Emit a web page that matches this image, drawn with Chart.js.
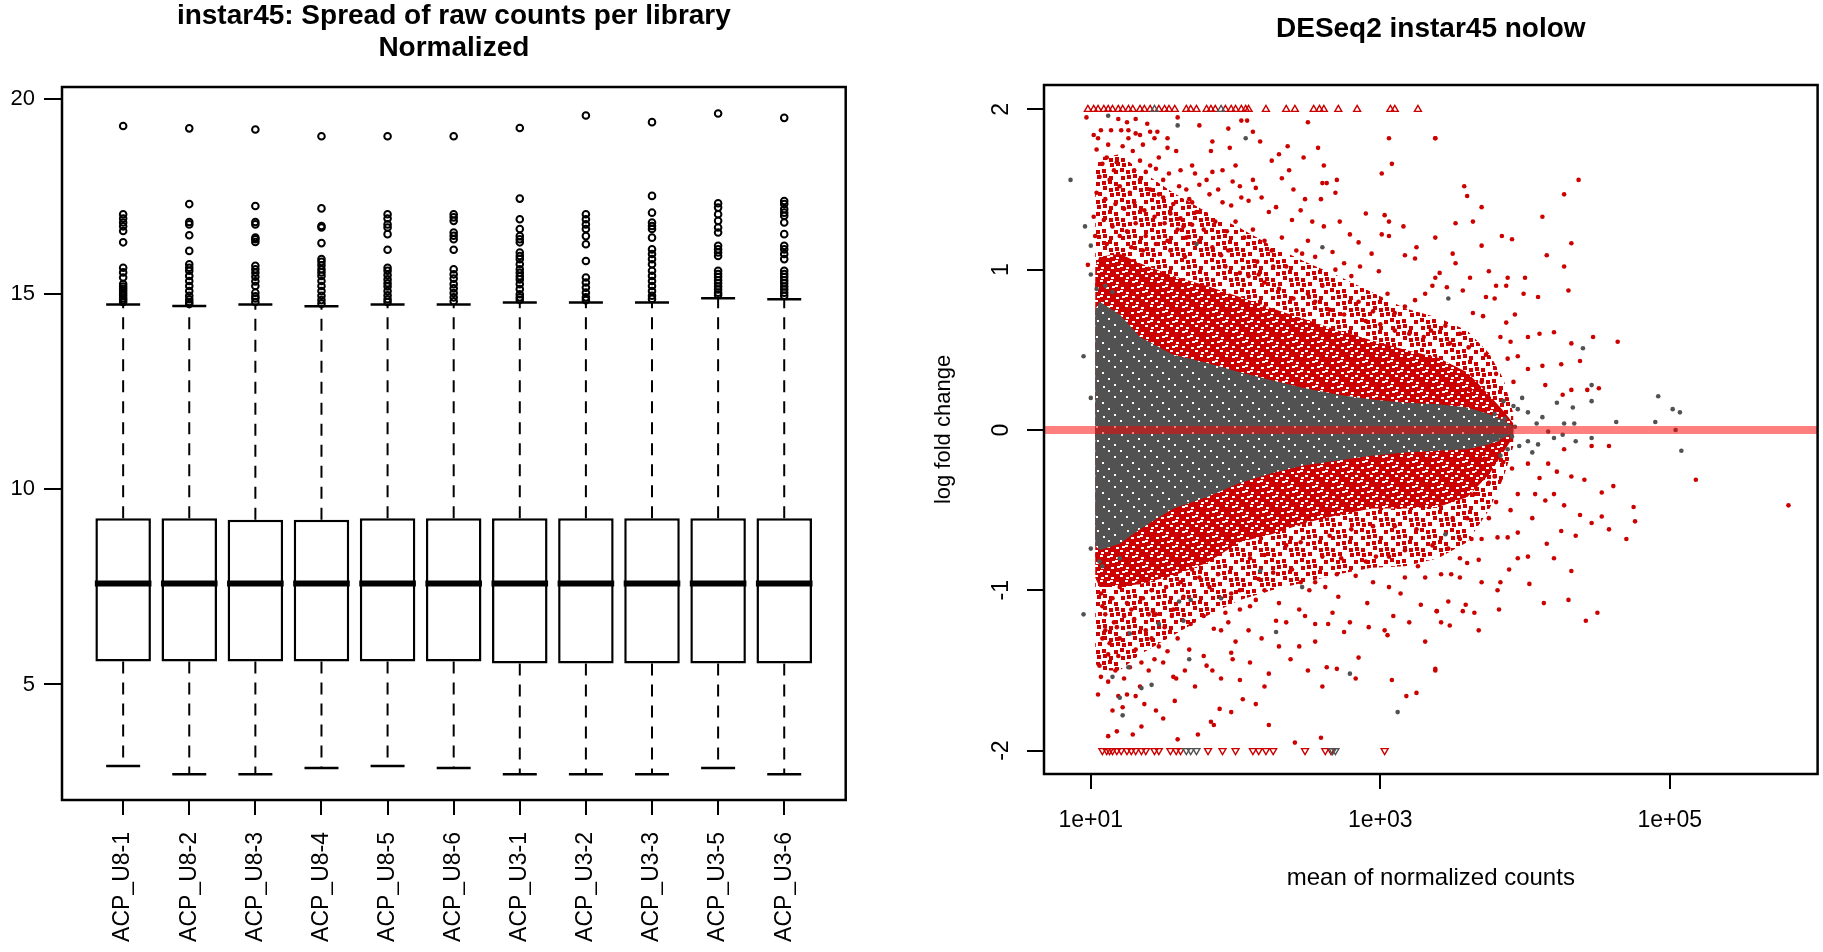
<!DOCTYPE html>
<html>
<head>
<meta charset="utf-8">
<script src="https://cdn.jsdelivr.net/npm/chart.js@4.4.1/dist/chart.umd.min.js"></script>
<style>
  html, body { margin: 0; padding: 0; background: #fff; overflow: hidden; }
  #left { position: absolute; left: 0; top: 0; width: 880px; height: 952px; }
  #right { position: absolute; left: 880px; top: 0; width: 943px; height: 952px; }
</style>
</head>
<body>
<div id="left"><canvas id="boxChart"></canvas></div>
<div id="right"><canvas id="maChart"></canvas></div>
<script>
// left panel: normalized counts per library (boxplot stats)
const libraries = ["ACP_U8-1", "ACP_U8-2", "ACP_U8-3", "ACP_U8-4", "ACP_U8-5", "ACP_U8-6",
                   "ACP_U3-1", "ACP_U3-2", "ACP_U3-3", "ACP_U3-5", "ACP_U3-6"];
const whiskerLow  = [2.91, 2.70, 2.70, 2.86, 2.91, 2.86, 2.70, 2.70, 2.70, 2.86, 2.70];
const q1          = [5.59, 5.59, 5.59, 5.59, 5.59, 5.59, 5.54, 5.54, 5.54, 5.54, 5.54];
const medians     = [7.59, 7.59, 7.59, 7.59, 7.59, 7.59, 7.59, 7.59, 7.59, 7.59, 7.59];
const q3          = [9.26, 9.26, 9.22, 9.22, 9.26, 9.26, 9.26, 9.26, 9.26, 9.26, 9.26];
const whiskerHigh = [14.74, 14.70, 14.74, 14.69, 14.74, 14.74, 14.79, 14.79, 14.79, 14.90, 14.87];
const outliers = [
  [19.31, 17.05, 16.94, 16.84, 16.74, 16.62, 16.33, 15.68, 15.56, 15.43, 15.26, 15.20, 15.14, 15.08, 15.02, 14.96, 14.90, 14.85, 14.80],
  [19.25, 17.31, 16.85, 16.79, 16.51, 16.11, 15.77, 15.68, 15.60, 15.47, 15.34, 15.21, 15.08, 14.96, 14.87, 14.80, 14.75],
  [19.22, 17.26, 16.85, 16.79, 16.45, 16.41, 16.34, 15.73, 15.64, 15.55, 15.45, 15.33, 15.21, 15.04, 14.95, 14.89, 14.80],
  [19.05, 17.20, 16.75, 16.71, 16.31, 15.90, 15.83, 15.74, 15.64, 15.56, 15.47, 15.34, 15.21, 15.08, 14.96, 14.85, 14.76],
  [19.05, 17.05, 16.94, 16.79, 16.71, 16.54, 16.14, 15.68, 15.60, 15.49, 15.38, 15.28, 15.20, 15.08, 14.97, 14.87, 14.80],
  [19.05, 17.05, 16.97, 16.88, 16.58, 16.50, 16.41, 16.14, 15.64, 15.51, 15.40, 15.26, 15.15, 15.03, 14.92, 14.82],
  [19.26, 17.45, 16.92, 16.67, 16.49, 16.41, 16.33, 16.07, 15.98, 15.90, 15.77, 15.64, 15.55, 15.46, 15.38, 15.26, 15.13, 15.00, 14.92, 14.86],
  [19.58, 17.05, 16.92, 16.79, 16.67, 16.49, 16.28, 15.85, 15.43, 15.30, 15.17, 15.04, 14.92, 14.85],
  [19.41, 17.52, 17.09, 16.84, 16.75, 16.67, 16.45, 16.15, 16.03, 15.90, 15.77, 15.60, 15.47, 15.34, 15.21, 15.08, 14.96, 14.88],
  [19.63, 17.33, 17.22, 17.05, 16.88, 16.71, 16.58, 16.24, 16.15, 16.07, 15.98, 15.60, 15.52, 15.44, 15.36, 15.28, 15.20, 15.12, 15.04, 14.98],
  [19.52, 17.39, 17.31, 17.18, 17.09, 17.01, 16.84, 16.54, 16.24, 16.15, 16.03, 15.90, 15.60, 15.52, 15.44, 15.36, 15.28, 15.20, 15.12, 15.04, 14.96]
];
const boxYTicks = [5, 10, 15, 20];

// right panel: MA plot, x kept as log10(mean of normalized counts)
const maXTicks = [10, 1000, 100000];
const maXLabels = ["1e+01", "1e+03", "1e+05"];
const maYTicks = [-2, -1, 0, 1, 2];
const lfcCap = 2;

// outline of the dense clouds (log10 mean -> lfc)
const bandLog       = [1.03, 1.06, 1.2, 1.34, 1.57, 1.8, 2.03, 2.25, 2.48, 2.71, 2.94, 3.17, 3.4, 3.6, 3.75, 3.85, 3.92];
const grayTop       = [0.75, 0.80, 0.72, 0.58, 0.47, 0.42, 0.36, 0.31, 0.26, 0.22, 0.19, 0.17, 0.16, 0.14, 0.10, 0.06, 0.02];
const grayBottom    = [-0.72, -0.75, -0.71, -0.62, -0.49, -0.42, -0.33, -0.27, -0.22, -0.19, -0.16, -0.14, -0.13, -0.12, -0.09, -0.05, -0.02];
const sigTop        = [1.02, 1.08, 1.10, 1.04, 0.96, 0.90, 0.83, 0.76, 0.69, 0.62, 0.56, 0.50, 0.45, 0.36, 0.22, 0.12, 0.04];
const sigBottom     = [-0.92, -0.98, -0.98, -0.96, -0.91, -0.83, -0.70, -0.65, -0.58, -0.53, -0.49, -0.49, -0.48, -0.42, -0.28, -0.14, -0.04];
const sigOuterTop    = [1.60, 1.70, 1.72, 1.62, 1.48, 1.36, 1.26, 1.15, 1.05, 0.96, 0.86, 0.76, 0.70, 0.62, 0.48, 0.32, 0.10];
const sigOuterBottom = [-1.45, -1.50, -1.50, -1.40, -1.28, -1.16, -1.06, -1.00, -0.95, -0.90, -0.86, -0.85, -0.80, -0.70, -0.50, -0.30, -0.10];

// scattered significant genes [log10 mean, lfc]
const sigPoints = [
  [0.97,1.95],[1.19,1.94],[1.25,1.92],[1.31,1.94],[1.39,1.91],[1.07,1.87],[1.14,1.87],[1.21,1.87],[1.26,1.87],[1.31,1.85],
  [1.41,1.86],[1.46,1.86],[1.02,1.84],[1.05,1.82],[1.26,1.82],[1.34,1.84],[1.44,1.82],[1.53,1.82],[2.04,1.93],[2.08,1.93],
  [2.12,1.86],[2.17,1.80],[1.84,1.80],[1.96,1.76],[1.83,1.74],[2.36,1.77],[2.30,1.72],[2.57,1.76],[3.06,1.82],[3.38,1.82],
  [1.59,1.74],[1.53,1.76],[1.47,1.70],[1.41,1.65],[1.70,1.65],[1.84,1.61],[1.91,1.62],[1.72,1.60],[2.12,1.56],[2.32,1.57],
  [2.37,1.62],[2.47,1.70],[2.61,1.65],[3.01,1.60],[3.08,1.66],[2.60,1.54],[2.63,1.54],[2.70,1.56],[2.03,1.52],[2.14,1.51],
  [1.98,1.55],[1.82,1.47],[1.91,1.42],[1.97,1.40],[2.04,1.45],[2.09,1.43],[2.28,1.39],[2.23,1.36],[2.48,1.44],[2.45,1.37],
  [2.69,1.48],[2.59,1.44],[3.03,1.34],[3.16,1.27],[3.06,1.30],[2.39,1.31],[2.53,1.30],[2.61,1.27],[2.79,1.22],[2.85,1.17],
  [3.01,1.22],[3.06,1.21],[3.25,1.14],[2.94,1.10],[3.17,1.09],[3.24,1.07],[3.38,0.95],[2.99,0.99],[2.86,1.02],[2.69,1.00],
  [2.75,1.04],[2.80,0.96],[3.36,0.90],[3.31,0.85],[3.24,0.81],[3.17,0.77],[3.10,0.73],[2.67,1.11],[2.42,1.12],[2.46,1.10],
  [2.35,1.02],[2.26,1.02],[2.16,0.97],[2.09,0.96],[2.03,0.98],[1.93,1.02],[1.90,1.09],[1.84,1.14],[1.66,1.20],[1.64,1.27],
  [1.60,1.25],[1.73,1.36],[1.68,1.44],[1.66,1.50],[1.61,1.52],[1.75,1.53],[1.80,1.56],
  [1.04,1.75],[1.11,1.70],[1.18,1.67],[1.22,1.77],[1.29,1.74],[1.34,1.68],[1.38,1.61],[1.45,1.63],[1.50,1.56],[1.54,1.60],
  [1.06,1.58],[1.13,1.56],[1.20,1.52],[1.27,1.48],[1.34,1.56],[1.41,1.50],[1.47,1.47],[1.57,1.41],[1.04,1.48],[1.10,1.44],
  [1.17,1.41],[1.23,1.38],[1.30,1.42],[1.37,1.37],[1.44,1.33],[1.51,1.29],[1.02,1.33],[1.09,1.31],[1.15,1.27],[1.25,1.24],
  [1.31,1.29],[1.38,1.21],[1.45,1.16],[1.53,1.18],[1.03,1.21],[1.11,1.16],[1.20,1.21],[1.28,1.14],[1.36,1.12],[0.98,1.03],
  [2.20,0.92],[2.30,0.88],[2.50,0.85],[2.55,0.80],[2.65,0.75],[2.75,0.72],[2.90,0.68],[3.00,0.66],[3.10,0.62],[3.20,0.60],
  [3.30,0.58],[2.40,0.82],[2.15,1.05],[1.95,1.12],[1.75,1.18],[1.55,1.12],[1.65,1.08],[2.60,0.90],[2.85,0.80],[3.05,0.85],
  [2.95,0.74],[3.35,0.62],
  [1.55,1.35],[1.62,1.32],[1.70,1.28],[1.78,1.25],[1.86,1.30],[1.94,1.24],[2.00,1.30],[2.06,1.20],[2.12,1.25],[2.20,1.18],
  [2.25,1.12],[2.32,1.20],[2.50,1.18],[2.55,1.08],[2.72,1.30],[2.90,1.35],[2.18,1.45],[2.40,1.50],[1.88,1.50],[1.70,1.42],
  [2.00,1.65],[2.25,1.68],[1.62,1.62],[1.50,1.45],[1.30,1.62],[1.16,1.62],[1.08,1.66],[1.12,1.78],[1.36,1.78],[1.60,1.95],
  [1.75,1.90],[2.50,1.92],[1.95,1.88],
  [1.07,-1.02],[1.08,-1.10],[1.10,-1.25],[1.13,-1.33],[1.06,-1.47],[1.07,-1.54],[1.12,-1.57],[1.17,-1.50],[1.19,-1.41],[1.18,-1.23],
  [1.23,-1.16],[1.28,-1.12],[1.26,-1.27],[1.31,-1.37],[1.27,-1.48],[1.23,-1.55],[1.19,-1.66],[1.22,-1.73],[1.31,-1.66],[1.37,-1.71],
  [1.34,-1.60],[1.40,-1.50],[1.44,-1.43],[1.47,-1.35],[1.45,-1.15],[1.51,-1.23],[1.53,-1.38],[1.57,-1.54],[1.59,-1.55],[1.58,-1.69],
  [1.45,-1.75],[1.12,-1.91],[1.18,-1.88],[1.29,-1.90],[1.60,-1.93],[1.74,-1.90],[1.83,-1.82],[1.85,-1.84],[1.89,-1.74],[1.97,-1.76],
  [2.05,-1.68],[2.14,-1.71],[2.23,-1.84],[2.03,-1.56],[2.23,-1.52],[2.38,-1.43],[2.44,-1.35],[2.55,-1.32],[2.63,-1.48],[2.70,-1.49],
  [2.83,-1.55],[2.85,-1.42],[3.08,-1.56],[3.18,-1.66],[3.25,-1.64],[3.31,-1.32],[3.38,-1.50],[2.41,-1.95],[2.59,-1.92],[1.68,-1.37],
  [1.78,-1.41],[1.80,-1.47],[1.84,-1.50],[1.97,-1.39],[1.98,-1.43],[2.00,-1.32],[1.69,-1.21],[1.78,-1.16],[1.85,-1.24],[1.90,-1.25],
  [1.93,-1.14],[2.03,-1.12],[2.09,-1.25],[2.18,-1.30],[2.28,-1.19],[2.35,-1.20],[2.44,-1.12],[2.48,-1.16],[2.55,-1.21],[2.64,-1.21],
  [2.67,-1.14],[2.75,-1.26],[2.79,-1.20],[2.91,-1.08],[2.92,-1.23],[3.03,-1.25],[3.05,-1.28],[3.09,-1.16],[3.28,-1.09],[3.39,-1.13],
  [2.90,-0.82],[3.06,-0.98],[3.14,-1.02],[3.17,-0.92],[3.26,-0.85],[3.31,-0.92],[3.36,-0.72],[2.71,-1.04],[2.62,-0.98],[2.55,-0.95],
  [2.51,-1.00],[2.30,-1.08],[2.14,-1.06],[2.03,-1.00],[1.97,-1.02],[1.82,-0.98],[1.70,-0.87],[1.64,-1.04],[1.57,-1.12],[1.56,-1.16],
  [1.52,-0.98],[1.43,-1.13],[1.38,-1.25],[1.36,-1.05],[1.20,-0.98],[2.16,-0.93],[2.26,-0.89],[2.39,-0.87],[2.60,-0.79],[2.73,-0.80],
  [2.83,-0.91],[2.97,-0.79],[3.06,-0.79],[3.17,-0.75],[1.15,-1.05],[1.25,-1.08],[1.33,-0.95],[1.42,-1.00],[1.62,-0.95],[1.75,-0.92],
  [1.88,-0.90],[2.10,-0.80],[2.20,-0.78],[2.35,-0.72],[2.45,-0.70],[2.65,-0.66],[2.80,-0.62],[2.95,-0.60],[3.10,-0.60],[3.25,-0.62],
  [1.10,-1.15],[1.16,-1.20],[1.30,-1.18],
  [1.12,-1.40],[1.20,-1.30],[1.35,-1.45],[1.42,-1.30],[1.50,-1.45],[1.60,-1.30],[1.65,-1.50],[1.72,-1.60],[1.90,-1.55],[2.10,-1.45],
  [2.20,-1.60],[2.30,-1.35],[2.50,-1.50],[2.60,-1.60],[2.10,-1.10],[2.20,-1.00],[2.45,-0.95],[2.70,-0.90],[2.95,-0.95],[3.20,-1.20],
  [1.25,-1.65],[1.15,-1.75],[1.05,-1.65],[1.35,-1.85],[1.50,-1.80],[1.08,-1.30],[1.40,-1.15],[1.95,-1.20],
  [3.38,1.82],[4.37,1.56],[4.27,1.47],[3.58,1.52],[3.60,1.46],[3.70,1.39],[3.52,1.29],[3.64,1.30],[4.12,1.33],[3.38,1.20],
  [3.84,1.21],[3.91,1.19],[4.32,1.165],[4.15,1.09],[3.52,1.04],[4.27,1.02],[3.75,0.99],[3.88,0.95],[3.87,0.90],[3.41,0.98],
  [4.30,0.87],[3.99,0.85],[4.09,0.83],[3.73,0.83],[3.79,0.82],[3.57,0.87],[3.46,0.89],[3.93,0.72],[3.87,0.67],[4.20,0.61],
  [4.02,0.58],[4.32,0.54],[4.47,0.58],[4.64,0.55],[3.64,0.73],[3.71,0.71],[3.45,0.65],[3.83,0.58],[3.88,0.445],[3.95,0.46],
  [4.12,0.40],[4.38,0.43],[4.25,0.41],[4.14,0.28],[4.32,0.25],[4.43,0.25],[4.51,0.26],[4.26,0.22],[4.02,0.38],[3.73,0.47],
  [3.61,0.515],[3.48,0.54],[3.50,1.10],[3.70,1.15],[3.62,0.95],[3.80,0.90],[4.00,0.95],[3.55,0.60],[3.90,0.55],[4.10,0.60],
  [3.80,0.35],[3.70,0.30],[3.92,0.30],[3.62,0.25],
  [4.27,-0.12],[4.46,-0.10],[4.58,-0.10],[5.18,-0.31],[5.82,-0.47],[4.61,-0.35],[4.53,-0.39],[4.41,-0.31],[4.32,-0.29],[4.22,-0.26],
  [4.16,-0.21],[4.02,-0.21],[3.91,-0.24],[3.79,-0.29],[3.75,-0.33],[3.68,-0.26],[4.07,-0.40],[4.14,-0.44],[4.20,-0.40],[4.27,-0.47],
  [4.38,-0.53],[4.46,-0.58],[4.53,-0.54],[4.58,-0.62],[4.75,-0.48],[4.76,-0.57],[4.70,-0.68],[4.35,-0.66],[4.25,-0.63],[4.15,-0.71],
  [4.02,-0.79],[3.95,-0.64],[3.88,-0.67],[3.81,-0.67],[3.70,-0.68],[3.63,-0.68],[3.55,-0.68],[3.47,-0.74],[3.42,-0.90],[3.49,-0.90],
  [3.55,-0.92],[3.60,-0.83],[3.68,-0.81],[3.89,-0.87],[4.03,-0.96],[4.32,-0.88],[3.81,-1.00],[3.83,-0.95],[3.82,-1.12],[4.13,-1.08],
  [4.30,-1.06],[4.50,-1.14],[4.42,-1.19],[3.39,-1.13],[3.42,-1.20],[3.48,-1.22],[3.57,-1.13],[3.65,-1.14],[3.68,-1.25],[3.38,-1.49],
  [3.47,-1.07],[3.59,-1.09],[3.50,-0.55],[3.60,-0.55],[3.75,-0.55],[3.90,-0.50],[4.05,-0.55],[3.80,-0.45],[3.95,-0.40],[4.10,-0.30],
  [3.65,-0.40],[3.70,-0.95],[3.95,-0.80],[4.20,-0.80],[3.55,-0.80],[3.85,-0.20],[3.72,-0.18]
];

// scattered non-significant genes [log10 mean, lfc]
const nonSigPoints = [
  [0.86,1.56],[0.96,1.27],[0.95,0.46],[1.00,1.15],[1.00,0.20],[1.12,1.96],[1.60,1.90],[2.07,1.82],[2.60,1.14],[1.73,1.16],
  [1.05,0.42],[1.00,0.97],[0.95,-1.15],[1.00,-0.74],[1.05,-0.14],[1.05,-0.44],[1.68,-1.43],[1.64,-1.19],[2.28,-1.26],[2.79,-1.52],
  [3.12,-1.76],[1.22,-1.78],[1.20,-1.67],[1.35,-1.61],[1.42,-1.59],[1.26,-1.48],[1.15,-1.54],[1.27,-1.27],[1.47,-1.21],[1.69,-1.06],
  [1.61,-1.07],[1.90,-1.05],[2.17,-0.88],[2.46,-0.98],[1.10,0.90],[1.15,0.86],[1.20,-0.80],[1.08,-0.85],[1.04,0.88],[1.06,-0.82],
  [4.40,0.51],[4.46,0.28],[4.46,0.18],[4.33,0.14],[4.22,0.17],[4.63,0.05],[4.92,0.21],[4.90,0.05],[5.02,0.13],[5.07,0.11],
  [5.04,0.00],[5.08,-0.13],[4.46,-0.05],[4.35,-0.07],[4.26,-0.03],[4.16,-0.01],[4.08,0.04],[4.02,0.11],[3.95,0.13],[3.92,0.15],
  [3.86,0.07],[3.79,0.10],[3.91,-0.04],[3.96,-0.10],[4.02,-0.07],[4.09,-0.09],[4.34,0.04],[4.27,0.04],[3.81,-0.06],[3.77,-0.01],
  [3.47,0.82],[3.45,-0.65],[3.85,0.18],[3.88,-0.12],[3.98,0.20],[4.05,-0.14],[4.12,0.08],[4.20,-0.05],[3.83,-0.16],[3.93,0.02]
];

// genes beyond the +/-2 limits, drawn as triangles (log10 mean)
const sigUp = [0.98,1.02,1.05,1.09,1.12,1.15,1.19,1.22,1.26,1.29,1.34,1.37,1.41,1.47,1.51,1.54,1.58,1.66,1.69,1.73,
               1.80,1.83,1.86,1.93,1.97,2.00,2.04,2.07,2.09,2.21,2.35,2.41,2.54,2.58,2.61,2.71,2.84,3.07,3.10,3.26];
const nonSigUp = [1.44, 1.90];
const sigDown = [1.08,1.11,1.13,1.15,1.18,1.21,1.25,1.28,1.31,1.35,1.38,1.44,1.47,1.55,1.59,1.62,1.81,1.91,2.00,2.12,
                 2.16,2.21,2.26,2.48,2.62,2.66,3.03];
const nonSigDown = [1.66, 1.69, 1.73, 2.67, 2.69];

Chart.defaults.font.family = "'Liberation Sans', Arial, sans-serif";
Chart.defaults.font.size = 22;
Chart.defaults.color = "#000";

// box round the plot region, like R's box()
const framePlugin = {
  id: "frame",
  afterDraw(chart) {
    const a = chart.chartArea, ctx = chart.ctx;
    ctx.save();
    ctx.strokeStyle = "#000";
    ctx.lineWidth = 2.5;
    ctx.strokeRect(a.left, a.top, a.right - a.left, a.bottom - a.top);
    ctx.restore();
  }
};

const tickGrid = (len) => ({ offset: false, drawOnChartArea: false, drawTicks: true, tickLength: len, color: "#000", lineWidth: 2 });

// ---------- boxplot ----------
const pos = libraries.map((_, i) => i + 1);
const whiskerData = [];
pos.forEach((x, i) => {
  whiskerData.push({ x, y: q3[i] }, { x, y: whiskerHigh[i] }, { x, y: null });
  whiskerData.push({ x, y: q1[i] }, { x, y: whiskerLow[i] }, { x, y: null });
});
const boxData = pos.map((x, i) => ({ x, y: [q1[i], q3[i]] }));
const medianData = pos.map((x, i) => ({ x, y: medians[i] }));
const capData = pos.flatMap((x, i) => [{ x, y: whiskerHigh[i] }, { x, y: whiskerLow[i] }]);
const outlierData = pos.flatMap((x, i) => outliers[i].map(y => ({ x, y })));

new Chart(document.getElementById("boxChart"), {
  type: "scatter",
  data: {
    datasets: [
      { type: "line", data: whiskerData, borderColor: "#000", borderWidth: 2, borderDash: [12, 9],
        pointRadius: 0, spanGaps: false, order: 5 },
      { type: "bar", data: boxData, backgroundColor: "#fff", borderColor: "#000", borderWidth: 2.5,
        borderSkipped: false, categoryPercentage: 0.84, barPercentage: 1, order: 4 },
      { data: medianData, pointStyle: "line", pointRadius: 28.3, borderWidth: 6, borderColor: "#000", order: 3 },
      { data: capData, pointStyle: "line", pointRadius: 17, borderWidth: 2.5, borderColor: "#000", order: 2 },
      { data: outlierData, pointStyle: "circle", pointRadius: 3.3, borderWidth: 2, borderColor: "#000",
        backgroundColor: "rgba(0,0,0,0)", order: 1 }
    ]
  },
  options: {
    responsive: true,
    maintainAspectRatio: false,
    animation: false,
    events: [],
    layout: { padding: { left: 0, right: 18.5, top: 0, bottom: 0 } },
    plugins: {
      legend: { display: false },
      tooltip: { enabled: false },
      title: {
        display: true,
        fullSize: false,
        text: ["instar45: Spread of raw counts per library", "Normalized"],
        font: { size: 28, weight: "bold", lineHeight: 1.143 },
        padding: { top: 0, bottom: 23 },
        color: "#000"
      }
    },
    scales: {
      x: {
        type: "linear", min: 0.075, max: 11.93, offset: false,
        afterBuildTicks: s => { s.ticks = pos.map(v => ({ value: v })); },
        afterFit: s => { s.height = 152; },
        grid: tickGrid(15),
        border: { display: false },
        ticks: { autoSkip: false, minRotation: 90, maxRotation: 90, padding: 17, font: { size: 23 },
                 callback: (v, i) => libraries[i] }
      },
      y: {
        type: "linear", min: 2.04, max: 20.31,
        afterBuildTicks: s => { s.ticks = boxYTicks.map(v => ({ value: v })); },
        afterFit: s => { s.width = 62; },
        grid: tickGrid(18),
        border: { display: false },
        ticks: { padding: 9, font: { size: 22 }, callback: v => String(v) }
      }
    }
  },
  plugins: [framePlugin]
});

// ---------- MA plot ----------
const toXY = (lx, y) => ({ x: 10 ** lx, y });
const band = vals => bandLog.map((lx, i) => toXY(lx, vals[i]));
const clear = "rgba(0,0,0,0)";
const sigColor = "#cd0000";
const nonSigColor = "#525252";

// textures so the packed clouds read as dots rather than flat paint
function speckle(base, fleck, cell, w, h, keep) {
  const size = cell * 5;
  const c = document.createElement("canvas");
  c.width = c.height = size;
  const g = c.getContext("2d");
  g.fillStyle = base;
  g.fillRect(0, 0, size, size);
  g.fillStyle = fleck;
  for (let i = 0; i < 5; i++) {
    for (let j = 0; j < 5; j++) {
      if ((i * 3 + j * 2) % 5 < keep) {
        g.fillRect(j * cell + (i * 2 + j) % 3, i * cell + (j * 2 + i) % 3, w, h);
      }
    }
  }
  return g.createPattern(c, "repeat");
}
function sprinkle(color) {
  const c = document.createElement("canvas");
  c.width = c.height = 30;
  const g = c.getContext("2d");
  g.fillStyle = color;
  for (let i = 0; i < 5; i++) {
    for (let j = 0; j < 5; j++) {
      if ((i * 2 + j * 3) % 5 !== 0) g.fillRect(j * 6 + (i * 7 + j * 3) % 3, i * 6 + (i * 5 + j * 2) % 3, 4, 4);
    }
  }
  return g.createPattern(c, "repeat");
}

const zeroLine = {
  id: "zeroLine",
  afterDatasetsDraw(chart) {
    const { ctx, chartArea: a, scales: { y } } = chart;
    const py = y.getPixelForValue(0);
    ctx.save();
    ctx.beginPath();
    ctx.moveTo(a.left, py);
    ctx.lineTo(a.right, py);
    ctx.lineWidth = 8;
    ctx.strokeStyle = "rgba(255,0,0,0.5)";
    ctx.stroke();
    ctx.restore();
  }
};

// R draws the y labels parallel to the axis
const rotatedYLabels = {
  id: "rotatedYLabels",
  afterDraw(chart) {
    const { ctx, chartArea, scales: { y } } = chart;
    ctx.save();
    ctx.font = "23px 'Liberation Sans', Arial, sans-serif";
    ctx.fillStyle = "#000";
    ctx.textAlign = "center";
    ctx.textBaseline = "middle";
    maYTicks.forEach(v => {
      ctx.save();
      ctx.translate(chartArea.left - 42, y.getPixelForValue(v));
      ctx.rotate(-Math.PI / 2);
      ctx.fillText(String(v), 0, 0);
      ctx.restore();
    });
    ctx.restore();
  }
};

const edge = vals => ({ type: "line", data: band(vals), fill: false, borderColor: clear, borderWidth: 0, pointRadius: 0 });
const area = (vals, paint, order) => Object.assign(edge(vals), { fill: "+1", backgroundColor: paint, order });
const dots = (pts, color, order) => ({
  data: pts.map(p => toXY(p[0], p[1])), pointRadius: 2.3, borderWidth: 0,
  backgroundColor: color, order
});
const triangles = (list, y, color, rotation, order) => ({
  data: list.map(lx => toXY(lx, y)), pointStyle: "triangle", rotation, pointRadius: 4,
  borderWidth: 1.4, borderColor: color, backgroundColor: clear, order
});

new Chart(document.getElementById("maChart"), {
  type: "scatter",
  data: {
    datasets: [
      area(sigOuterTop, sprinkle(sigColor), 10),
      Object.assign(edge(sigOuterBottom), { order: 10 }),
      area(sigTop, speckle(sigColor, "#ffffff", 5, 3, 2, 4), 9),
      Object.assign(edge(sigBottom), { order: 9 }),
      area(grayTop, speckle(nonSigColor, "#ffffff", 6, 2, 2, 2), 8),
      Object.assign(edge(grayBottom), { order: 8 }),
      dots(sigPoints, sigColor, 7),
      dots(nonSigPoints, nonSigColor, 6),
      triangles(sigUp, lfcCap, sigColor, 0, 5),
      triangles(sigDown, -lfcCap, sigColor, 180, 5),
      triangles(nonSigUp, lfcCap, nonSigColor, 0, 4),
      triangles(nonSigDown, -lfcCap, nonSigColor, 180, 4)
    ]
  },
  options: {
    responsive: true,
    maintainAspectRatio: false,
    animation: false,
    events: [],
    layout: { padding: { left: 0, right: 2.3, top: 0, bottom: 0 } },
    plugins: {
      legend: { display: false },
      tooltip: { enabled: false },
      title: {
        display: true,
        fullSize: false,
        text: "DESeq2 instar45 nolow",
        font: { size: 28, weight: "bold", lineHeight: 1.2 },
        padding: { top: 12, bottom: 39.4 },
        color: "#000"
      }
    },
    scales: {
      x: {
        type: "logarithmic", min: 4.75, max: 1.05e6,
        afterBuildTicks: s => { s.ticks = maXTicks.map(v => ({ value: v })); },
        afterFit: s => { s.height = 178; },
        grid: tickGrid(15),
        border: { display: false },
        ticks: { autoSkip: false, maxRotation: 0, padding: 18, font: { size: 23 },
                 callback: (v, i) => maXLabels[i] },
        title: { display: true, text: "mean of normalized counts", font: { size: 24 },
                 padding: { top: 0, bottom: 59.6 } }
      },
      y: {
        type: "linear", min: -2.146, max: 2.152,
        afterBuildTicks: s => { s.ticks = maYTicks.map(v => ({ value: v })); },
        afterFit: s => { s.width = 164; },
        grid: tickGrid(17),
        border: { display: false },
        ticks: { display: false },
        title: { display: true, text: "log fold change", font: { size: 22 },
                 padding: { top: 50.8, bottom: 0 } }
      }
    }
  },
  plugins: [zeroLine, framePlugin, rotatedYLabels]
});
</script>
</body>
</html>
